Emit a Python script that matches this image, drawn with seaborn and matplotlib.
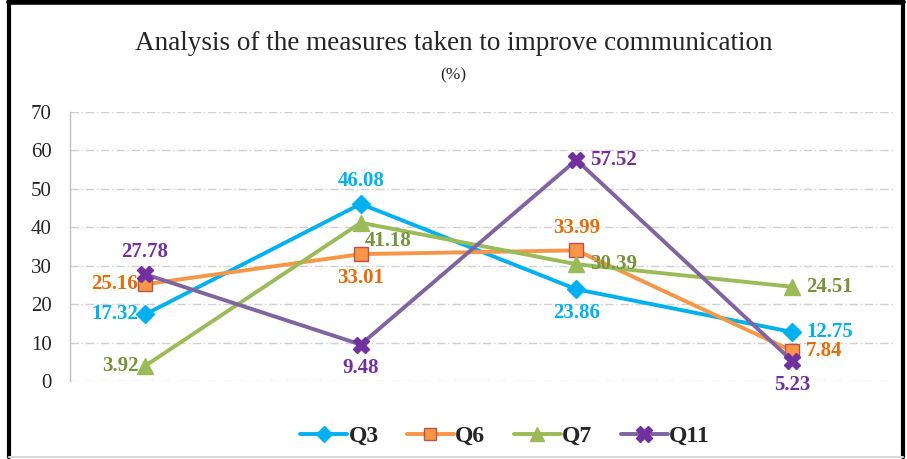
import numpy as np
import pandas as pd
import seaborn as sns
import matplotlib.pyplot as plt
from matplotlib.lines import Line2D

# Data
categories = ["C1", "C2", "C3", "C4"]
series_names = ["Q3", "Q6", "Q7", "Q11"]
q3 = [17.32, 46.08, 23.86, 12.75]
q6 = [25.16, 33.01, 33.99, 7.84]
q7 = [3.92, 41.18, 30.39, 24.51]
q11 = [27.78, 9.48, 57.52, 5.23]
y_ticks = [0, 10, 20, 30, 40, 50, 60, 70]

# Styles
line_colors = {"Q3": "#00B0F0", "Q6": "#F79646", "Q7": "#9BBB59", "Q11": "#8064A2"}
marker_face = {"Q3": "#00B0F0", "Q6": "#F79646", "Q7": "#9BBB59", "Q11": "#7030A0"}
marker_edge = {"Q3": "#00B0F0", "Q6": "#C0504D", "Q7": "#9BBB59", "Q11": "#7030A0"}
label_colors = {"Q3": "#00B0F0", "Q6": "#E46C0A", "Q7": "#77933C", "Q11": "#7030A0"}
markers = {"Q3": "D", "Q6": "s", "Q7": "^", "Q11": "X"}
msizes = {"Q3": 9, "Q6": 10, "Q7": 11, "Q11": 12}
label_pos = {
    "Q3": ["left", "above", "below", "right"],
    "Q6": ["left", "below", "above", "right"],
    "Q7": ["left", "belowright", "right", "right"],
    "Q11": ["above", "below", "right", "below"],
}
offsets = {
    "left": ((-5, 0), "right", "center"),
    "right": ((10, 0), "left", "center"),
    "above": ((0, 9), "center", "bottom"),
    "below": ((0, -10), "center", "top"),
    "belowright": ((3, -6), "left", "top"),
}

values = {"Q3": q3, "Q6": q6, "Q7": q7, "Q11": q11}
rows = []
for name in series_names:
    for c, v in zip(categories, values[name]):
        rows.append({"category": c, "series": name, "value": v})
df = pd.DataFrame(rows)

sns.set_style("white")
plt.rcParams["font.family"] = ["Liberation Serif", "DejaVu Serif"]

fig = plt.figure(figsize=(9.07, 4.59), dpi=100)
ax = fig.add_axes([0.0772, 0.170, 0.9074, 0.586])

for name in series_names:
    sub = df[df["series"] == name]
    sns.lineplot(data=sub, x="category", y="value", ax=ax, color=line_colors[name],
                 linewidth=2.8, marker=markers[name], markersize=msizes[name],
                 markerfacecolor=marker_face[name], markeredgecolor=marker_edge[name],
                 markeredgewidth=1, legend=False, sort=False)
    for i, v in enumerate(sub["value"]):
        off, ha, va = offsets[label_pos[name][i]]
        ax.annotate(f"{v:.2f}", xy=(i, v), xytext=off, textcoords="offset points",
                    ha=ha, va=va, fontsize=15, fontweight="bold",
                    color=label_colors[name])

ax.set_xlim(-0.348, 3.468)
ax.set_ylim(0, 70)
ax.set_yticks(y_ticks)
ax.set_yticklabels([str(t) for t in y_ticks], fontsize=15)
ax.set_xticks([])
ax.set_xlabel("")
ax.set_ylabel("")
ax.tick_params(axis="y", length=0, pad=13)
for t in y_ticks:
    ax.axhline(t, color="#D0D0D0", linewidth=1, linestyle=(0, (6, 2, 1, 2)), zorder=0)
for s in ["top", "right", "bottom"]:
    ax.spines[s].set_visible(False)
ax.spines["left"].set_color("#BFBFBF")
ax.spines["left"].set_linewidth(1)

fig.text(0.5, 1 - 44 / 459, "Analysis of the measures taken to improve communication",
         ha="center", va="center", fontsize=19.5)
fig.text(0.5, 1 - 75 / 459, "(%)", ha="center", va="center", fontsize=12.5)

handles = [Line2D([0], [0], color=line_colors[n], linewidth=2.8, marker=markers[n],
                  markersize=msizes[n] - 1, markerfacecolor=marker_face[n],
                  markeredgecolor=marker_edge[n]) for n in series_names]
fig.legend(handles, series_names, loc="center", bbox_to_anchor=(505 / 907, 1 - 436 / 459),
           ncol=4, frameon=False, prop={"weight": "bold", "size": 17},
           handlelength=2.0, handletextpad=0.05, columnspacing=1.2)

# outer frame
fig.add_artist(Line2D([0.0099, 0.0099], [0.004, 0.995], color="black", linewidth=3,
                      transform=fig.transFigure))
fig.add_artist(Line2D([0.0099, 0.996], [0.995, 0.995], color="black", linewidth=4,
                      transform=fig.transFigure))
fig.add_artist(Line2D([0.996, 0.996], [0.004, 0.995], color="black", linewidth=3,
                      transform=fig.transFigure))
fig.add_artist(Line2D([0.0099, 0.996], [0.004, 0.004], color="#D9D9D9", linewidth=1.5,
                      transform=fig.transFigure))

fig.savefig("out.png", dpi=100)
